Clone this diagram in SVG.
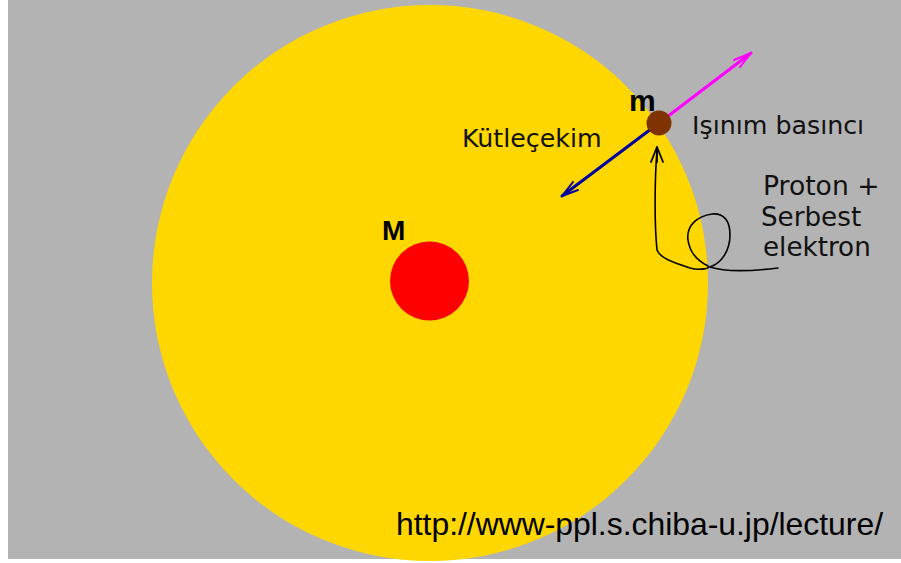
<svg xmlns="http://www.w3.org/2000/svg" width="901" height="563" viewBox="0 0 901 563">
<style>
.lbl{font-family:"DejaVu Sans",sans-serif;fill:#111;}
.bold{font-family:"Liberation Sans",Arial,sans-serif;font-weight:bold;fill:#000;}
.url{font-family:"Liberation Sans",Arial,sans-serif;fill:#000;}
</style>
<rect x="0" y="0" width="901" height="563" fill="#ffffff"/>
<rect x="8" y="0" width="893" height="559" fill="#b3b3b3"/>
<g id="star">
<circle cx="430" cy="283" r="278" fill="#ffd700"/>
</g>
<g id="core">
<circle cx="429.5" cy="281" r="39.5" fill="#ff0000"/>
<text class="bold" x="382" y="240" font-size="28">M</text>
</g>
<g id="connectors" fill="none" stroke-linecap="round" stroke-linejoin="round">
<path d="M659,123 L751,53" stroke="#ff00ff" stroke-width="3"/>
<path d="M751,53 L734,60 M751,53 L740,67" stroke="#ff00ff" stroke-width="2"/>
<path d="M659,123 L562,196" stroke="#0000a0" stroke-width="3"/>
<path d="M562,196 L573,182 M562,196 L578,190" stroke="#0000a0" stroke-width="2"/>
<path d="M657,150 C655,175 654,220 657,250 C660,258 672,262 690,268 C700,271 712,268 708,266 C700,262 690,255 688,240 C686,225 698,216 712,214 C725,213 730,222 730,235 C730,250 722,263 710,267 C725,272 745,272 778,268" stroke="#000" stroke-width="1.6"/>
<path d="M657,147 L651,162 M657,147 L663,162 M657,147 L657,162" stroke="#000" stroke-width="1.8"/>
</g>
<g id="particle">
<circle cx="659" cy="123" r="12.5" fill="#7f3300"/>
<text class="bold" x="629" y="111" font-size="30">m</text>
</g>
<g id="labels">
<text class="lbl" x="462" y="147" font-size="25.3">Kütleçekim</text>
<text class="lbl" x="692" y="134" font-size="25.3">Işınım basıncı</text>
<text class="lbl" x="763" y="195" font-size="26.6">Proton +</text>
<text class="lbl" x="761" y="226" font-size="26.2">Serbest</text>
<text class="lbl" x="763" y="256" font-size="26.2">elektron</text>
<text class="url" x="396" y="535" font-size="31.5" textLength="487" lengthAdjust="spacingAndGlyphs">http://www-ppl.s.chiba-u.jp/lecture/</text>
</g>
</svg>
